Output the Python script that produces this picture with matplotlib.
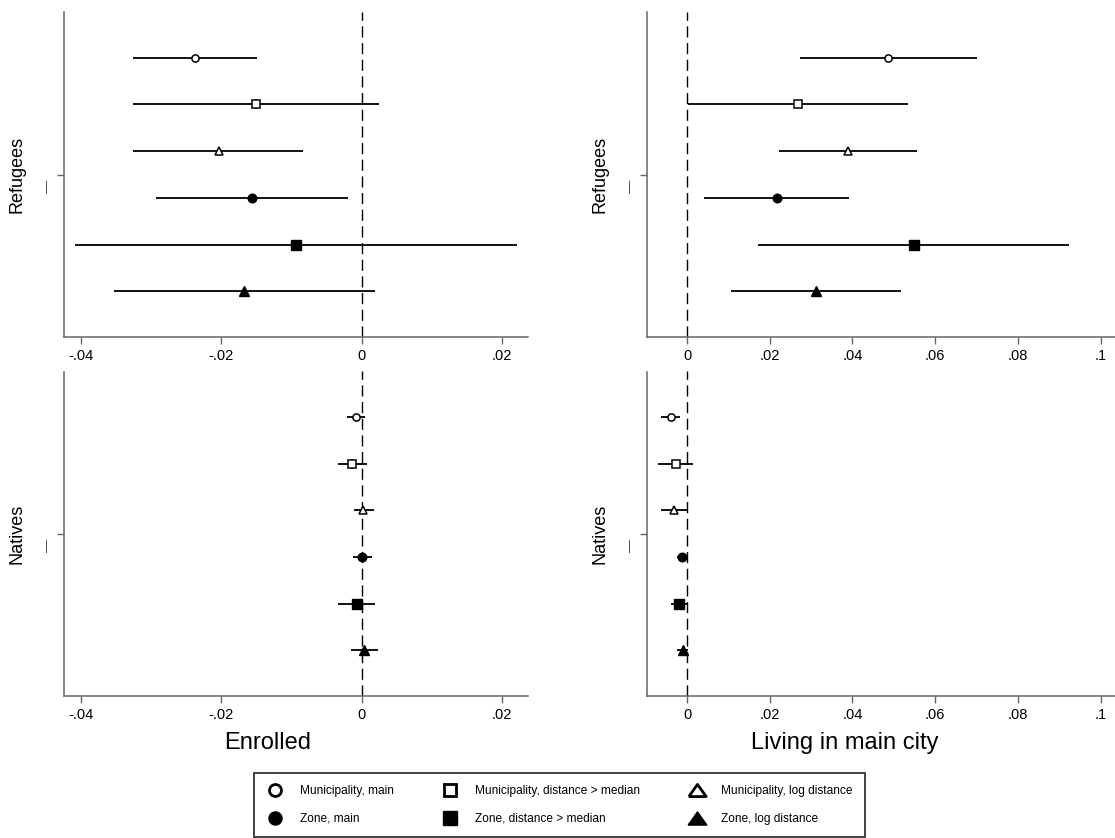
import numpy as np
import matplotlib
matplotlib.use("Agg")
import matplotlib.pyplot as plt
import matplotlib.transforms as mtransforms
from matplotlib.lines import Line2D

plt.rcParams['font.family'] = ['Liberation Sans', 'DejaVu Sans']

# estimates, top to bottom: municipality main, mun dist>median, mun log dist,
# zone main, zone dist>median, zone log dist
labels = ["Municipality, main", "Municipality, distance > median", "Municipality, log distance",
          "Zone, main", "Zone, distance > median", "Zone, log distance"]
markers = ["o", "s", "^", "o", "s", "^"]
filled = [False, False, False, True, True, True]

enr_ref_b = [-0.0238, -0.0151, -0.0203, -0.0156, -0.0094, -0.0168]
enr_ref_lo = [-0.0326, -0.0326, -0.0325, -0.0293, -0.0409, -0.0353]
enr_ref_hi = [-0.0149, 0.0025, -0.0083, -0.0020, 0.0222, 0.0019]

enr_nat_b = [-0.0008, -0.0014, 0.0002, 0.0000, -0.0007, 0.0004]
enr_nat_lo = [-0.0021, -0.0034, -0.0011, -0.0013, -0.0033, -0.0015]
enr_nat_hi = [0.0005, 0.0007, 0.0017, 0.0015, 0.0019, 0.0023]

city_ref_b = [0.0486, 0.0268, 0.0389, 0.0217, 0.0548, 0.0312]
city_ref_lo = [0.0273, 0.0003, 0.0223, 0.0042, 0.0172, 0.0106]
city_ref_hi = [0.0700, 0.0535, 0.0555, 0.0392, 0.0924, 0.0517]

city_nat_b = [-0.0040, -0.0028, -0.0031, -0.0013, -0.0019, -0.0011]
city_nat_lo = [-0.0063, -0.0071, -0.0063, -0.0025, -0.0039, -0.0024]
city_nat_hi = [-0.0017, 0.0015, -0.0001, 0.0002, 0.0002, 0.0002]

group_names = ["Refugees", "Natives"]
outcome_titles = ["Enrolled", "Living in main city"]

enr_ticks = [-0.04, -0.02, 0, 0.02]
enr_ticklabels = ["-.04", "-.02", "0", ".02"]
city_ticks = [0, 0.02, 0.04, 0.06, 0.08, 0.1]
city_ticklabels = ["0", ".02", ".04", ".06", ".08", ".1"]

offsets = [2.5, 1.5, 0.5, -0.5, -1.5, -2.5]
W, H = 1115, 838
fig = plt.figure(figsize=(W / 100, H / 100), dpi=100)

spine_col = "#666666"


def panel(rect, b, lo, hi, ticks, ticklabels, xlim, ylab, labx):
    ax = fig.add_axes(rect)
    ax.axvline(0, color="black", lw=1.0, dashes=(8, 4), zorder=1)
    for i in range(6):
        y = offsets[i]
        ax.plot([lo[i], hi[i]], [y, y], color="black", lw=1.3, zorder=2, solid_capstyle="butt")
        if filled[i]:
            ms = {"o": 6.2, "s": 7.0, "^": 7.8}[markers[i]]
            ax.plot(b[i], y, marker=markers[i], ms=ms, color="black", zorder=3)
        else:
            ms = {"o": 5.2, "s": 5.4, "^": 6.2}[markers[i]]
            ax.plot(b[i], y, marker=markers[i], ms=ms, mfc="white", mec="black", mew=1.1, zorder=3)
    ax.set_xlim(*xlim)
    ax.set_ylim(-3.48, 3.48)
    ax.set_xticks(ticks)
    ax.set_xticklabels(ticklabels, fontsize=10.5)
    ax.set_yticks([0])
    ax.set_yticklabels([""])
    # small vertical dash used as the coefficient tick label
    trans = mtransforms.blended_transform_factory(ax.transAxes, ax.transData)
    ax.annotate("\u2014", xy=(0, 0), xycoords=trans, xytext=(-16, -12), textcoords="offset pixels",
                rotation=90, ha="center", va="center", fontsize=9.5, color="#333333")
    for s in ["top", "right"]:
        ax.spines[s].set_visible(False)
    for s in ["left", "bottom"]:
        ax.spines[s].set_color(spine_col)
        ax.spines[s].set_linewidth(1.1)
    ax.tick_params(axis="both", colors=spine_col, labelcolor="black", length=5, width=1.0)
    ax.set_ylabel(ylab, fontsize=13)
    ax.yaxis.set_label_coords(labx, 0.5)
    return ax


lx, lw_ = 64 / W, 464 / W
rx, rw = 647 / W, 468 / W
tb, th = 1 - 337 / H, 325 / H
bb, bh = 1 - 696 / H, 324.5 / H

enr_xlim = (-0.0424, 0.0237)
city_xlim = (-0.0097, 0.1035)

panel([lx, tb, lw_, th], enr_ref_b, enr_ref_lo, enr_ref_hi, enr_ticks, enr_ticklabels, enr_xlim, group_names[0], -0.084)
panel([rx, tb, rw, th], city_ref_b, city_ref_lo, city_ref_hi, city_ticks, city_ticklabels, city_xlim, group_names[0], -0.083)
panel([lx, bb, lw_, bh], enr_nat_b, enr_nat_lo, enr_nat_hi, enr_ticks, enr_ticklabels, enr_xlim, group_names[1], -0.084)
panel([rx, bb, rw, bh], city_nat_b, city_nat_lo, city_nat_hi, city_ticks, city_ticklabels, city_xlim, group_names[1], -0.083)

fig.text(268 / W, 1 - 743 / H, outcome_titles[0], fontsize=17, ha="center", va="center")
fig.text(845 / W, 1 - 743 / H, outcome_titles[1], fontsize=17, ha="center", va="center")

# legend, column-wise order so rows are municipality / zone
wide_tri = [(-1.0, -0.7), (1.0, -0.7), (0.0, 0.7), (-1.0, -0.7)]
order = [0, 3, 1, 4, 2, 5]
handles = []
for i in order:
    mk = wide_tri if markers[i] == "^" else markers[i]
    if filled[i]:
        ms = 13.5 if markers[i] == "^" else 9.4
        h = Line2D([], [], ls="none", marker=mk, ms=ms, color="black")
    else:
        ms = 12.5 if markers[i] == "^" else 8.6
        h = Line2D([], [], ls="none", marker=mk, ms=ms, mfc="white", mec="black", mew=2)
    handles.append(h)
leg = fig.legend(handles, [labels[i] for i in order], ncol=3, loc="center",
                 bbox_to_anchor=(559.5 / W, 1 - 805 / H), fontsize=8.6, frameon=True,
                 fancybox=False, edgecolor="black", handlelength=1.5, handletextpad=1.3,
                 columnspacing=4.0, labelspacing=1.3, borderpad=1.0)
leg.get_frame().set_linewidth(1.3)

fig.savefig("out.png", dpi=100)
